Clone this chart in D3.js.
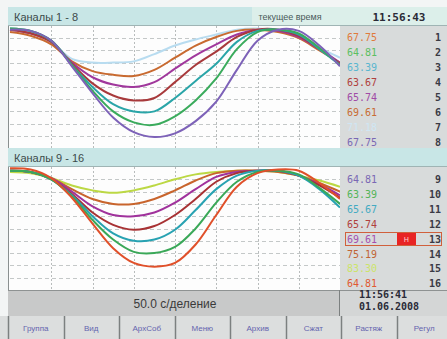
<!DOCTYPE html>
<html>
<head>
<meta charset="utf-8">
<script src="https://cdn.jsdelivr.net/npm/d3@7"></script>
<style>
  body { margin: 0; background: #f3f5f5; }
  svg { display: block; }
</style>
</head>
<body>
<svg id="chart" width="447" height="339"></svg>
<script>
// time axis: 50 s per division, 8 divisions
const times = [0, 25, 50, 75, 100, 125, 150, 175, 200, 225, 250, 275, 300, 325, 350, 375, 400];

// group 1 (channels 1-8), % of scale
const ch7 = [97, 95, 87, 73, 70, 70, 71, 77, 84, 89, 93, 97, 98, 96, 91, 82, 74];
const ch6 = [95, 92, 85, 71, 63, 60, 59, 64, 74, 84, 91, 96, 97, 95, 90, 80, 70];
const ch5 = [97, 94, 87, 70, 58, 52, 50, 54, 65, 76, 85, 93, 97, 96, 91, 81, 70];
const ch4 = [97, 94, 87, 69, 53, 43, 39, 41, 54, 68, 79, 91, 97, 97, 92, 81, 69];
const ch3 = [98, 96, 88, 68, 50, 36, 30, 30, 41, 55, 69, 87, 96, 97, 93, 81, 68];
const ch2 = [98, 96, 88, 68, 47, 30, 21, 19, 26, 39, 57, 81, 95, 97, 94, 82, 68];
const ch8 = [97, 96, 88, 67, 45, 25, 13, 9, 12, 22, 38, 64, 88, 97, 96, 84, 67];

// group 2 (channels 9-16)
const ch15 = [96, 95, 91, 85, 81, 79, 81, 85, 90, 94, 96, 97, 97, 96, 93, 89, 84];
const ch14 = [97, 96, 91, 82, 74, 70, 70, 74, 81, 89, 95, 97, 97, 96, 93, 87, 80];
const ch13 = [97, 96, 91, 80, 68, 61, 60, 63, 71, 82, 92, 96, 97, 97, 93, 86, 77];
const ch12 = [97, 96, 90, 78, 63, 53, 49, 52, 61, 74, 88, 95, 97, 97, 93, 85, 75];
const ch11 = [97, 96, 90, 77, 60, 46, 40, 41, 49, 65, 82, 93, 97, 97, 93, 82, 67];
const ch10 = [97, 96, 90, 76, 57, 41, 31, 30, 35, 50, 71, 88, 96, 97, 94, 83, 70];
const ch16 = [99, 98, 91, 75, 54, 34, 22, 19, 22, 37, 61, 84, 95, 98, 97, 87, 74];

// current values on the right panel
const values1 = ["67.75", "64.81", "63.39", "63.67", "65.74", "69.61", "71.18", "67.75"];
const values2 = ["64.81", "63.39", "65.67", "65.74", "69.61", "75.19", "83.30", "64.81"];
const valueColors1 = ["#e07a3c", "#5cbf62", "#5ab6cf", "#b0403c", "#a04aa6", "#c86c34", "#cfe6f4", "#7a68b4"];
const valueColors2 = ["#7a68b4", "#54b458", "#44aac2", "#b0403c", "#a450b0", "#c06434", "#cce46a", "#e05a30"];

const buttons = ["Группа", "Вид", "АрхСоб", "Меню", "Архив", "Сжат", "Растяж", "Регул"];

const group1 = [
  { values: ch7, color: "#b8dcf0" },
  { values: ch6, color: "#c86a30" },
  { values: ch5, color: "#a0389c" },
  { values: ch4, color: "#a83a3c" },
  { values: ch3, color: "#2aa5a8" },
  { values: ch2, color: "#3aab5c" },
  { values: ch8, color: "#7d62b8" }
];
const group2 = [
  { values: ch15, color: "#bcd844" },
  { values: ch14, color: "#c8642c" },
  { values: ch13, color: "#a0329c" },
  { values: ch12, color: "#a83234" },
  { values: ch11, color: "#28a2b2" },
  { values: ch10, color: "#3aa858" },
  { values: ch16, color: "#e0502a" }
];

const svg = d3.select("#chart");
const plotLeft = 8, plotRight = 340, W = 447;

const x = d3.scaleLinear().domain([0, 400]).range([10, 340]);

function header(y, h, label) {
  svg.append("rect").attr("x", plotLeft).attr("y", y).attr("width", W - plotLeft).attr("height", h)
    .attr("fill", "#c8e6e6");
  svg.append("line").attr("x1", plotLeft).attr("x2", W).attr("y1", y + h - 0.5).attr("y2", y + h - 0.5)
    .attr("stroke", "#9fb4b4");
  svg.append("text").attr("x", 14).attr("y", y + h / 2 + 4)
    .attr("font-family", "Liberation Sans Narrow, Liberation Sans, sans-serif").attr("font-size", 11)
    .attr("fill", "#3c4a4a").text(label);
}

function plot(top, bottom, series, id) {
  const y = d3.scaleLinear().domain([100, 0]).range([top, bottom]);
  svg.append("rect").attr("x", plotLeft).attr("y", top).attr("width", plotRight - plotLeft).attr("height", bottom - top)
    .attr("fill", "#fdfdfd");
  svg.append("line").attr("x1", plotLeft + 0.5).attr("x2", plotLeft + 0.5).attr("y1", top).attr("y2", bottom)
    .attr("stroke", "#8a8f8f");
  const g = svg.append("g");
  g.selectAll(".h").data(d3.range(10, 100, 10)).join("line")
    .attr("x1", plotLeft + 2).attr("x2", plotRight)
    .attr("y1", d => Math.round(y(d)) + 0.5).attr("y2", d => Math.round(y(d)) + 0.5)
    .attr("stroke", "#c4c8c8").attr("stroke-dasharray", "4,3");
  g.selectAll(".v").data(d3.range(50, 400, 50)).join("line")
    .attr("x1", d => Math.round(x(d)) + 0.5).attr("x2", d => Math.round(x(d)) + 0.5)
    .attr("y1", top).attr("y2", bottom)
    .attr("stroke", "#b8bcbc").attr("stroke-dasharray", "2,2");
  svg.append("clipPath").attr("id", id).append("rect")
    .attr("x", plotLeft + 1).attr("y", top).attr("width", plotRight - plotLeft - 1).attr("height", bottom - top);
  const line = d3.line().x((d, i) => x(times[i])).y(d => y(d)).curve(d3.curveCatmullRom.alpha(0.5));
  svg.append("g").attr("clip-path", `url(#${id})`)
    .selectAll("path").data(series).join("path")
    .attr("d", d => line(d.values))
    .attr("fill", "none").attr("stroke", d => d.color).attr("stroke-width", 2);
}

function panel(top, bottom, vals, colors, firstCh, rowY, step) {
  svg.append("rect").attr("x", plotRight).attr("y", top).attr("width", W - plotRight).attr("height", bottom - top)
    .attr("fill", "#d8dbdb");
  const rows = svg.append("g").selectAll("g").data(vals).join("g")
    .attr("transform", (d, i) => `translate(0,${rowY + i * step})`);
  rows.append("text").attr("x", 347).attr("y", 4)
    .attr("font-family", "DejaVu Sans Mono, monospace").attr("font-size", 10)
    .attr("fill", (d, i) => colors[i]).text(d => d);
  rows.append("text").attr("x", 441).attr("y", 4).attr("text-anchor", "end")
    .attr("font-family", "DejaVu Sans Mono, monospace").attr("font-size", 10).attr("font-weight", "bold")
    .attr("fill", "#3a3a44").text((d, i) => firstCh + i);
}

// top strip
svg.append("rect").attr("width", W).attr("height", 339).attr("fill", "#f3f5f5");

header(7, 19, "Каналы 1 - 8");
svg.append("rect").attr("x", 252).attr("y", 7).attr("width", W - 252).attr("height", 18).attr("fill", "#dcefea");
svg.append("text").attr("x", 290).attr("y", 20).attr("text-anchor", "middle")
  .attr("font-family", "Liberation Sans Narrow, Liberation Sans, sans-serif").attr("font-size", 9)
  .attr("fill", "#4a5a5a").text("текущее время");
svg.append("text").attr("x", 399).attr("y", 21).attr("text-anchor", "middle")
  .attr("font-family", "DejaVu Sans Mono, monospace").attr("font-size", 11).attr("font-weight", "bold")
  .attr("fill", "#2a2a36").text("11:56:43");

plot(26, 148, group1, "clip1");
panel(26, 148, values1, valueColors1, 1, 37, 15);

header(148, 19, "Каналы 9 - 16");
plot(167, 290, group2, "clip2");
panel(167, 290, values2, valueColors2, 9, 179, 14.9);

// alarm highlight on channel 13
svg.append("rect").attr("x", 345.5).attr("y", 232.5).attr("width", 96).attr("height", 13)
  .attr("fill", "none").attr("stroke", "#d0603c");
svg.append("rect").attr("x", 397).attr("y", 233).attr("width", 19).attr("height", 12).attr("fill", "#e82424");
svg.append("text").attr("x", 406.5).attr("y", 241.5).attr("text-anchor", "middle")
  .attr("font-family", "DejaVu Sans, sans-serif").attr("font-size", 7).attr("fill", "#ffd0d0").text("Н");

// bottom status
svg.append("rect").attr("x", plotLeft).attr("y", 290).attr("width", plotRight - plotLeft).attr("height", 26)
  .attr("fill", "#c8c9c9");
svg.append("line").attr("x1", plotLeft).attr("x2", W).attr("y1", 290.5).attr("y2", 290.5).attr("stroke", "#8e9292");
svg.append("text").attr("x", 175).attr("y", 308).attr("text-anchor", "middle")
  .attr("font-family", "Liberation Sans Narrow, Liberation Sans, sans-serif").attr("font-size", 12)
  .attr("fill", "#3a3a3a").text("50.0 с/деление");
svg.append("rect").attr("x", plotRight).attr("y", 291).attr("width", W - plotRight).attr("height", 25)
  .attr("fill", "#d4d6d6");
svg.append("line").attr("x1", plotRight - 0.5).attr("x2", plotRight - 0.5).attr("y1", 290).attr("y2", 316)
  .attr("stroke", "#7c8080");
svg.append("text").attr("x", 383).attr("y", 298)
  .attr("text-anchor", "middle").attr("font-family", "DejaVu Sans Mono, monospace").attr("font-size", 10)
  .attr("font-weight", "bold").attr("fill", "#2a2a36").text("11:56:41");
svg.append("text").attr("x", 389).attr("y", 310)
  .attr("text-anchor", "middle").attr("font-family", "DejaVu Sans Mono, monospace").attr("font-size", 10)
  .attr("font-weight", "bold").attr("fill", "#2a2a36").text("01.06.2008");

// button row
const bx = d3.scaleBand().domain(buttons).range([8, 452]);
svg.append("rect").attr("x", 0).attr("y", 316).attr("width", W).attr("height", 23).attr("fill", "#dcdede");
const btn = svg.append("g").selectAll("g").data(buttons).join("g");
btn.append("line").attr("x1", d => Math.round(bx(d)) + 0.5).attr("x2", d => Math.round(bx(d)) + 0.5)
  .attr("y1", 316).attr("y2", 339).attr("stroke", "#7c8080").attr("stroke-width", 1.5);
btn.append("text").attr("x", d => bx(d) + bx.bandwidth() / 2).attr("y", 331).attr("text-anchor", "middle")
  .attr("font-family", "Liberation Sans Narrow, Liberation Sans, sans-serif").attr("font-size", 8)
  .attr("fill", "#6464ae").text(d => d);
</script>
</body>
</html>
